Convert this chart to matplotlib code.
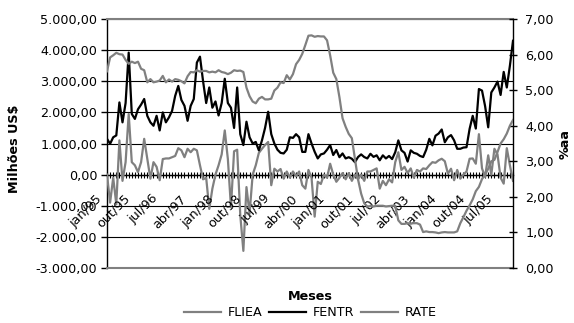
import matplotlib
matplotlib.use("Agg")
import matplotlib.pyplot as plt
from matplotlib.transforms import offset_copy

plt.rcParams['font.family'] = ['DejaVu Sans']

# ---------------- data (monthly, jan/95 .. dez/05) ----------------
fentr = [1150, 990, 1200, 1260, 2320, 1680, 2300, 3920, 1950, 1790,
         2100, 2250, 2430, 1890, 1680, 1570, 1890, 1420, 2000, 1680,
         1840, 2050, 2530, 2850, 2400, 2210, 1730, 2210, 2430, 3600,
         3790, 3000, 2300, 2800, 2150, 2350, 1900, 2300, 3080, 2300,
         2150, 1500, 2800, 1300, 950, 1700, 1200, 1000, 1050, 780,
         1100, 1500, 2020, 1300, 1000, 800, 700, 680, 800, 1200,
         1180, 1300, 1200, 730, 730, 1300, 1000, 735, 520, 650,
         680, 800, 950, 630, 790, 560, 680, 520, 560, 510,
         400, 565, 650, 565, 520, 670, 570, 620, 460, 620,
         520, 600, 500, 720, 1100, 780, 700, 420, 780, 700,
         670, 600, 565, 800, 1150, 940, 1250, 1320, 1450, 1040,
         1200, 1270, 1100, 830, 830, 870, 880, 1470, 1890, 1480,
         2750, 2700, 2200, 1520, 2640, 2800, 2990, 2560, 3300, 2800,
         3500, 4300]

fliea = [0, -900, -100, -950, 1100, -200, 400, 1950, 400, 300,
         80, 400, 1150, 500, -130, 400, 250, -180, 500, 520,
         520, 560, 600, 850, 780, 560, 830, 720, 830, 780,
         300, -150, -100, -1100, -450, 0, 300, 650, 1420, 500,
         -1050, 750, 800, -1300, -2450, -400, -1250, 0, 300, 700,
         830, 950, 1050, -340, 190, 100, 180, -130, 100, -100,
         100, -50, 100, -340, -450, 150, -100, -1350, -230, -300,
         0, -100, 350, 0, -230, -100, 50, -150, 50, -200,
         0, -150, 0, -200, 100, 100, 150, 200, -450, -200,
         -340, -150, -250, 400, 720, 150, 250, 50, 200, -100,
         150, 100, 200, 180, 300, 400, 380, 460, 510, 430,
         30, 190, -180, 150, -130, 0, 100, 510, 520, 350,
         1300, 200, -75, 620, 0, 830, 650, -100, -290, 850,
         300, -200]

rate = [5.53, 5.92, 5.98, 6.05, 6.01, 6.00, 5.85, 5.74, 5.80, 5.76, 5.80, 5.60,
        5.56, 5.22, 5.31, 5.22, 5.24, 5.27, 5.40, 5.22, 5.30, 5.24, 5.31, 5.29,
        5.25, 5.19, 5.39, 5.51, 5.50, 5.56, 5.52, 5.54, 5.54, 5.50, 5.52, 5.50,
        5.56, 5.51, 5.49, 5.45, 5.49, 5.56, 5.54, 5.55, 5.51, 5.07, 4.83, 4.68,
        4.63, 4.76, 4.81, 4.74, 4.74, 4.76, 4.99, 5.07, 5.22, 5.20, 5.42, 5.30,
        5.45, 5.73, 5.85, 6.02, 6.27, 6.53, 6.54, 6.50, 6.52, 6.51, 6.51, 6.40,
        5.98, 5.49, 5.31, 4.80, 4.21, 3.97, 3.77, 3.65, 3.07, 2.49, 2.09, 1.82,
        1.73, 1.74, 1.73, 1.75, 1.75, 1.75, 1.73, 1.74, 1.75, 1.75, 1.34, 1.24,
        1.24, 1.26, 1.25, 1.26, 1.26, 1.22, 1.01, 1.03, 1.01, 1.01, 1.00, 0.98,
        1.00, 1.01, 1.00, 1.00, 1.00, 1.03, 1.26, 1.43, 1.61, 1.76, 1.93, 2.16,
        2.28, 2.50, 2.63, 2.79, 3.00, 3.04, 3.26, 3.50, 3.62, 3.78, 4.00, 4.16]

month_abbr = ['jan', 'fev', 'mar', 'abr', 'mai', 'jun',
              'jul', 'ago', 'set', 'out', 'nov', 'dez']
start_year = 1995
label_step = 9

left_ticks = [-3000, -2000, -1000, 0, 1000, 2000, 3000, 4000, 5000]
right_ticks = [0, 1, 2, 3, 4, 5, 6, 7]

# ---------------- figure ----------------
GREY = '#808080'
FS = 9.2
fig = plt.figure(figsize=(5.74, 3.23), dpi=100)
ax = fig.add_axes([107/574, 1-268/323, (513-107)/574, (268-19)/323])
ax2 = ax.twinx()

n = len(fentr)
x = list(range(n))

l1, = ax.plot(x, fliea, color=GREY, lw=1.6, label='FLIEA', zorder=3)
l2, = ax.plot(x, fentr, color='black', lw=1.6, label='FENTR', zorder=4)
l3, = ax2.plot(x, rate, color=GREY, lw=1.6, label='RATE', zorder=3)

ax.set_xlim(0, n - 1)
ax.set_ylim(-3000, 5000)
ax2.set_ylim(0, 7)


def br(v, dec=2):
    s = f"{v:,.{dec}f}"
    return s.replace(',', 'X').replace('.', ',').replace('X', '.')


ax.set_yticks(left_ticks)
ax.set_yticklabels([br(v) for v in left_ticks], fontsize=FS)
ax2.set_yticks(right_ticks)
ax2.set_yticklabels([br(v) for v in right_ticks], fontsize=FS)

ax.yaxis.grid(True, color='black', lw=0.8)
ax.set_axisbelow(True)

# spines
ax.spines['bottom'].set_position(('data', 0))
ax.spines['bottom'].set_color('black')
ax.spines['bottom'].set_linewidth(1.0)
ax.spines['top'].set_color(GREY)
ax.spines['top'].set_linewidth(1.5)
ax.spines['left'].set_linewidth(1.0)
ax.spines['right'].set_visible(False)
for s in ['top', 'bottom', 'left']:
    ax2.spines[s].set_visible(False)
ax2.spines['right'].set_linewidth(1.0)
ax.axhline(-3000, color=GREY, lw=1.5, zorder=5, clip_on=False)

ax.tick_params(axis='y', direction='out', length=4, width=1, pad=3)
ax2.tick_params(axis='y', direction='inout', length=6, width=1, pad=6)
ax.set_xticks(x)
ax.set_xticklabels([])
ax.tick_params(axis='x', direction='inout', length=5, width=0.8)

# x labels (rotated 45, end at tick)
trans = offset_copy(ax.transData, fig=fig, x=-7, y=-22, units='dots')
for i in range(0, n, label_step):
    lab = f"{month_abbr[i % 12]}/{(start_year + i // 12) % 100:02d}"
    ax.text(i, 0, lab, transform=trans, rotation=45, ha='right', va='center',
            rotation_mode='anchor', fontsize=FS, zorder=6)

fig.text(15/574, 1-149/323, 'Milhões US$', rotation=90, ha='center', va='center',
         fontsize=FS, fontweight='bold')
fig.text(565/574, 1-144/323, '%aa', rotation=90, ha='center', va='center',
         fontsize=FS, fontweight='bold')
fig.text(310/574, 1-296/323, 'Meses', ha='center', va='center',
         fontsize=FS, fontweight='bold')

fig.legend(handles=[l1, l2, l3], loc='center', bbox_to_anchor=(310.5/574, 1-313/323),
           ncol=3, frameon=False, fontsize=FS, handlelength=2.9, handletextpad=0.5,
           columnspacing=0.55, borderpad=0)

fig.savefig('out.png', dpi=100)
